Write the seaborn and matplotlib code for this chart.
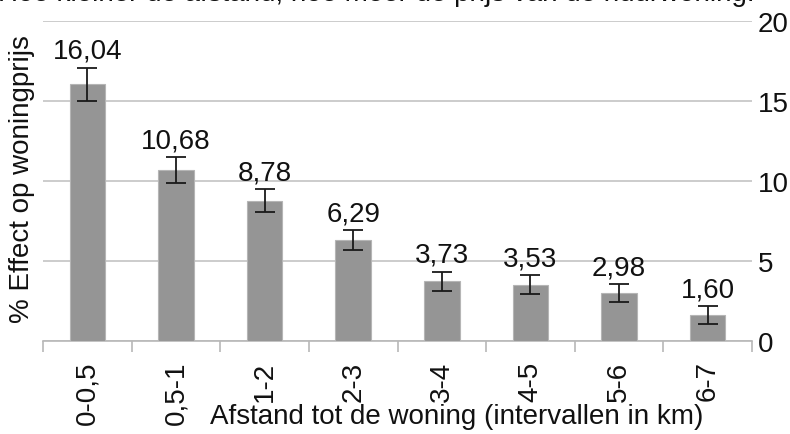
import matplotlib
matplotlib.use("Agg")
import matplotlib.pyplot as plt
import seaborn as sns
import pandas as pd
import numpy as np

categories = ["0-0,5", "0,5-1", "1-2", "2-3", "3-4", "4-5", "5-6", "6-7"]
values = [16.04, 10.68, 8.78, 6.29, 3.73, 3.53, 2.98, 1.60]
errors = [1.03, 0.80, 0.70, 0.62, 0.60, 0.58, 0.56, 0.56]
labels = ["16,04", "10,68", "8,78", "6,29", "3,73", "3,53", "2,98", "1,60"]
yticks = [0, 5, 10, 15, 20]
title = "Hoe kleiner de afstand, hoe meer de prijs van de huurwoning."

sns.set_theme(style="white")
plt.rcParams['font.family'] = ['Liberation Sans', 'DejaVu Sans']
FS = 20

df = pd.DataFrame({"cat": categories, "val": values})

fig = plt.figure(figsize=(7.9, 4.35), dpi=100)
ax = fig.add_axes([43/790, 1 - 342/435, 709/790, 320/435])

sns.barplot(data=df, x="cat", y="val", color="#959595", saturation=1,
            width=0.4, edgecolor="#b5b5b5", linewidth=0.8, ax=ax, zorder=3)
xpos = np.arange(len(categories))
ax.errorbar(xpos, values, yerr=errors, fmt="none", ecolor="#1a1a1a",
            elinewidth=1.3, capsize=7, capthick=1.3, zorder=4)
for x, v, e, lab in zip(xpos, values, errors, labels):
    ax.annotate(lab, (x, v + e), xytext=(0, 3), textcoords="offset points",
                ha="center", va="bottom", fontsize=FS, color="#111111")

ax.set_xlim(-0.5, len(categories) - 0.5)
ax.set_ylim(0, 20)
ax.set_yticks(yticks)
ax.yaxis.tick_right()
ax.tick_params(axis="y", length=0, labelsize=FS, pad=4, colors="#111111")
ax.grid(axis="y", color="#c4c4c4", linewidth=1.2, zorder=0)
ax.set_axisbelow(True)

for s in ["left", "right", "top"]:
    ax.spines[s].set_visible(False)
ax.spines["bottom"].set_color("#b8b8b8")
ax.spines["bottom"].set_linewidth(1.2)

ax.set_xticks(xpos)
ax.set_xticklabels(categories, rotation=90, fontsize=FS, color="#111111")
ax.tick_params(axis="x", which="major", length=0, pad=14)
ax.set_xticks(np.arange(-0.5, len(categories), 1), minor=True)
ax.tick_params(axis="x", which="minor", bottom=True, length=8, width=1.2,
               color="#b8b8b8", direction="out")

ax.set_xlabel("")
ax.set_ylabel("")
fig.text(457/790, 1 - 417/435, "Afstand tot de woning (intervallen in km)",
         ha="center", va="center", fontsize=FS, color="#111111")
fig.text(22/790, 1 - 179/435, "% Effect op woningprijs", rotation=90,
         ha="center", va="center", fontsize=FS, color="#111111")
fig.text(-2/790, 1 - 1/435, title, ha="left", va="baseline", fontsize=FS, color="#111111")

fig.savefig("out.png", dpi=100)
